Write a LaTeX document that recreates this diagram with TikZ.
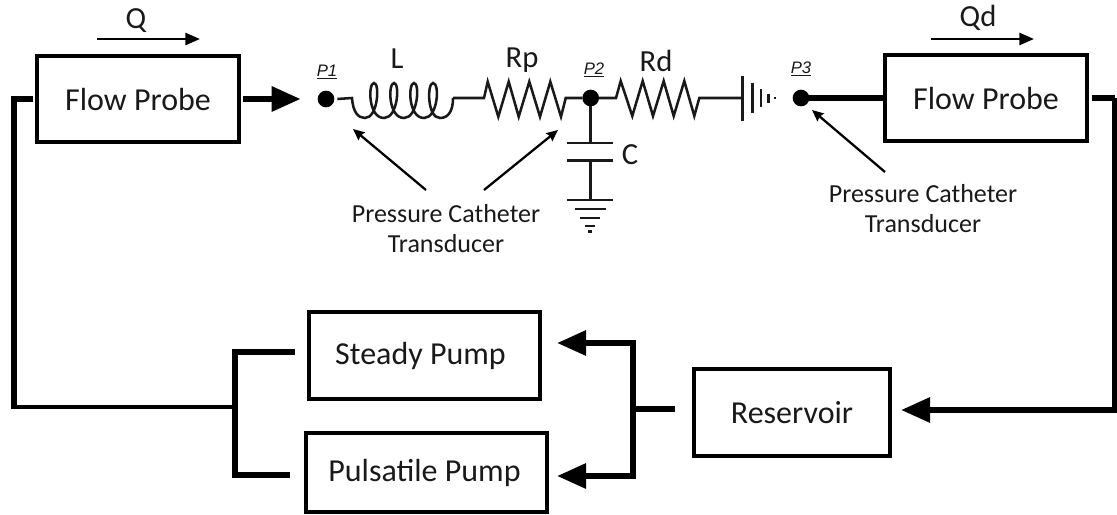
\documentclass[tikz,border=0pt]{standalone}
\usepackage{fontspec}
\setmainfont{Carlito}
\newfontfamily\arialfont{Liberation Sans}
\usetikzlibrary{arrows.meta}
\tikzset{
  box/.style={draw=black,line width=3pt,outer sep=0pt,inner sep=0pt,font=\fontsize{24}{27}\selectfont,align=center,text=black!90},
  pipe/.style={line width=4.5pt,line cap=butt,line join=miter,draw=black},
  pipetip/.style={pipe,-{Triangle[length=21.75pt,width=18pt]}},
  wire/.style={line width=1.9pt,draw=black!90,line join=miter},
  thinarrow/.style={line width=1.9pt,draw=black,-{Triangle[length=11pt,width=9pt]}},
  smallarrow/.style={line width=1.7pt,draw=black,-{Triangle[length=8.5pt,width=7.5pt,inset=1pt]}},
  dot/.style={circle,fill=black,inner sep=0pt,outer sep=0pt,minimum size=12.5pt},
  lab/.style={font=\fontsize{19.5}{22.5}\selectfont,align=center,text=black!90,inner sep=0pt},
  elem/.style={font=\fontsize{23}{26}\selectfont,text=black!90,inner sep=0pt},
  plab/.style={font=\arialfont\itshape\fontsize{12.5}{14}\selectfont,text=black!90,inner sep=0pt}
}
\begin{document}
\begin{tikzpicture}[x=0.75pt,y=-0.75pt]
\useasboundingbox (0,0) rectangle (1117,514);
% boxes
\node[box,minimum width=151.5pt,minimum height=64.5pt] (fpa) at (138,99) {Flow Probe};
\node[box,minimum width=151.5pt,minimum height=64.5pt] (fpb) at (986,98) {Flow Probe};
\node[box,line width=2.4pt,minimum width=173.25pt,minimum height=65.25pt] (steady) at (424.5,355.5) {Steady Pump\kern 6pt};
\node[box,line width=2.4pt,minimum width=180.75pt,minimum height=59.25pt] (pulse) at (426.5,472.5) {Pulsatile Pump\kern 3pt};
\node[box,line width=2.4pt,minimum width=147pt,minimum height=65.25pt] (res) at (792,412.5) {Reservoir};
% dots
\node[dot] (pa) at (326,99) {};
\node[dot] (pb) at (590.7,98) {};
\node[dot] (pc) at (801,98) {};
% coordinates
\coordinate (ja) at (14,99);
\coordinate (jb) at (14,407);
\coordinate (jc) at (235,407);
\coordinate (steadyin) at (295,352);
\coordinate (pulsein) at (290,475);
\coordinate (jd) at (633,409);
\coordinate (resout) at (675,409);
\coordinate (steadyout) at (557,343);
\coordinate (pulseout) at (557,476);
\coordinate (je) at (1115,98);
\coordinate (resin) at (901,410);
% flow pipes
\draw[pipetip,shorten <=3pt,shorten >=12.75pt] (fpa.east) -- (pa.west);
\draw[pipe,shorten <=3pt] (fpa.west) -- (ja) -- (jb);
\draw[pipe,line width=3.6pt] ([xshift=-2.2pt]jb) -- (jc);
\draw[pipe] (jc) |- (steadyin);
\draw[pipe] (jc) |- (pulsein);
\draw[pipe] (pc) -- (fpb.west);
\draw[pipe,shorten <=3.75pt] (fpb.east) -- (je);
\draw[pipetip] (je) |- (resin);
\draw[pipe,line width=4pt] (resout) -- (jd);
\draw[pipetip] (jd) |- (steadyout);
\draw[pipetip] (jd) |- (pulseout);
% Q arrows
\coordinate (qas) at (97,39); \coordinate (qae) at (200,39);
\coordinate (qbs) at (931,39); \coordinate (qbe) at (1034,39);
\draw[thinarrow] (qas) -- (qae);
\draw[thinarrow] (qbs) -- (qbe);
\node[elem] (qa) at (136,21) {Q};
\node[elem] (qb) at (978,18) {Qd};
% circuit: inductor
\coordinate (la) at (352,98);
\coordinate (lb) at (453,98);
\draw[wire] (pa.east) ++(3,0) -- (la)
  .. controls (353,112) and (358,118) .. (365,118)
  .. controls (378,118) and (380,83) .. (374,83)
  .. controls (368,83) and (368,118) .. (384,118)
  .. controls (398,118) and (400,83) .. (394,83)
  .. controls (388,83) and (388,118) .. (404,118)
  .. controls (418,118) and (420,83) .. (414,83)
  .. controls (408,83) and (408,118) .. (424,118)
  .. controls (438,118) and (440,83) .. (433,83)
  .. controls (427,83) and (427,118) .. (440,118)
  .. controls (449,118) and (453,110) .. (lb);
% Rp
\coordinate (rpa) at (484,98);
\draw[wire] (lb) -- (rpa) -- (487.7,81.7) -- (498.3,116.7) -- (508.7,81.7) -- (518.7,116.7) -- (529.3,81.7) -- (540,116.7) -- (550.3,81.7) -- (561,116.7) -- (565.7,98) -- (pb.west);
% Rd and battery
\coordinate (ba) at (742.7,98);
\draw[wire] (pb.east) -- (616,98) -- (620.7,81) -- (632.3,116) -- (642.7,81) -- (653,116) -- (663.7,81) -- (673.7,116) -- (684.3,81) -- (694.3,116) -- (699.3,98) -- (ba);
\draw[wire] (ba) ++(0,-22.3) -- ++(0,45.3);
\draw[wire] (752.3,83) -- (752.3,113);
\draw[wire] (761,89) -- (761,107);
\draw[wire] (768.3,94) -- (768.3,103);
\draw[wire] (773.5,98) -- (775.5,98);
% capacitor and ground
\coordinate (ca) at (590.7,143);
\coordinate (cb) at (590.7,160.7);
\coordinate (ga) at (590.7,200);
\draw[wire] (pb.south) -- (ca);
\draw[wire] (567,143) -- (613,143);
\draw[wire] (567,160.7) -- (613,160.7);
\draw[wire] (cb) -- (ga);
\draw[wire] (567,200) -- (613,200);
\draw[wire] (575,209) -- (606,209);
\draw[wire] (580,218) -- (600,218);
\draw[wire] (585,226) -- (595,226);
\draw[wire] (588,231.5) -- (592,231.5);
% labels
\node[elem] (ll) at (397,59) {L};
\node[elem] (lrp) at (522,60) {Rp};
\node[elem] (lrd) at (656,61) {Rd};
\node[elem] (lc) at (630,155) {C};
\node[plab] (lpa) at (327,72) {\underline{P1}};
\node[plab] (lpb) at (594,70) {\underline{P2}};
\node[plab] (lpc) at (801,69) {\underline{P3}};
% catheter
\node[lab] (pcta) at (446,229) {Pressure Catheter\\Transducer};
\node[lab] (pctb) at (923,209) {Pressure Catheter\\Transducer};
\coordinate (aa) at (426,190); \coordinate (ab) at (353,129);
\coordinate (ac) at (484,190); \coordinate (ad) at (558,130);
\coordinate (ae) at (885,172); \coordinate (af) at (812,110);
\draw[smallarrow] (aa) -- (ab);
\draw[smallarrow] (ac) -- (ad);
\draw[smallarrow] (ae) -- (af);
\end{tikzpicture}
\end{document}
